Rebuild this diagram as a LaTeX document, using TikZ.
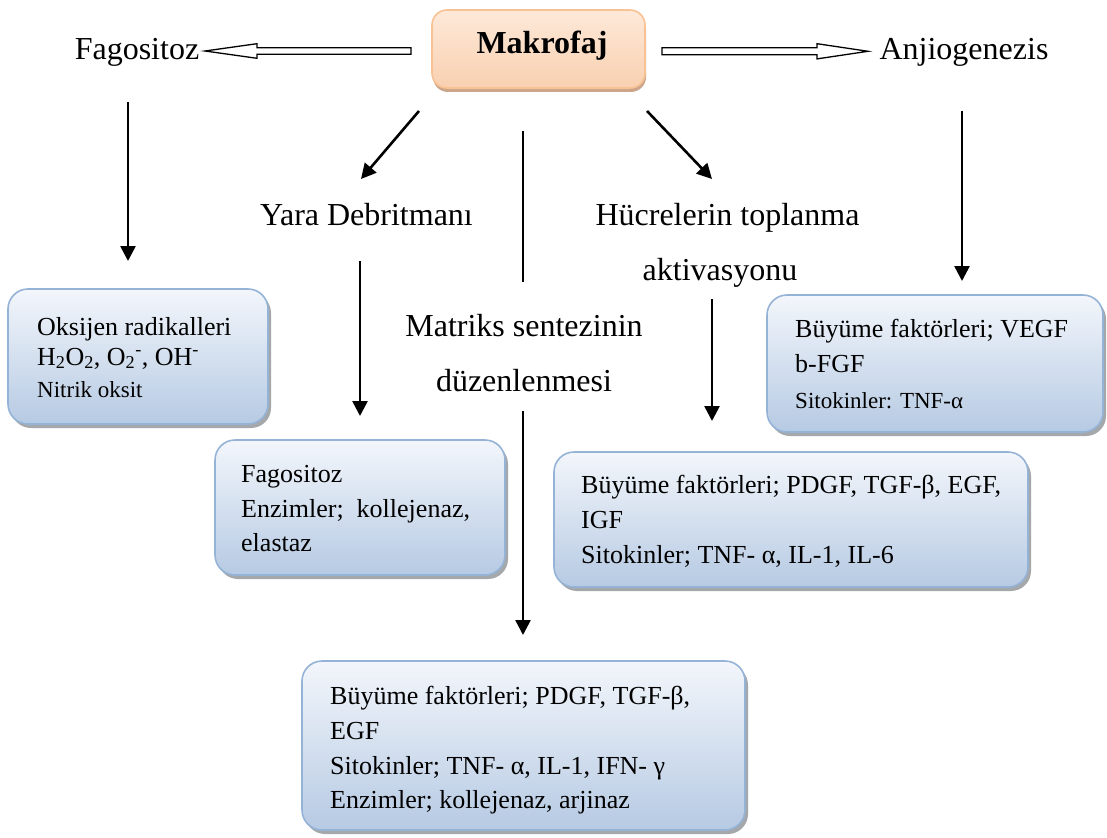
\documentclass[tikz,border=0pt]{standalone}
\usepackage{fontspec}
\setmainfont{Liberation Serif}
\usetikzlibrary{arrows.meta,shadows,calc}

\definecolor{boxedge}{HTML}{95B3D7}
\definecolor{boxtop}{HTML}{F3F6FB}
\definecolor{boxbot}{HTML}{B6CAE3}
\definecolor{boxshade}{HTML}{8E9296}
\definecolor{makedge}{HTML}{F9C294}
\definecolor{maktop}{HTML}{FDE9D9}
\definecolor{makbot}{HTML}{F9D0B0}
\definecolor{makshade}{HTML}{C79C7E}

\tikzset{
  x=1pt, y=-1pt,
  infobox/.style={draw=boxedge, line width=1.6pt, rounded corners=20pt,
    top color=boxtop, bottom color=boxbot, inner sep=0pt,
    drop shadow={shadow xshift=3pt, shadow yshift=-4pt, fill=boxshade, opacity=0.8}},
  makbox/.style={draw=makedge, line width=1.6pt, rounded corners=15pt,
    top color=maktop, bottom color=makbot, inner sep=0pt,
    drop shadow={shadow xshift=1pt, shadow yshift=-4pt, fill=makshade, opacity=0.9}},
  biglabel/.style={anchor=base, inner sep=0pt, font=\fontsize{32}{38}\selectfont},
  boxline/.style={anchor=base west, inner sep=0pt, font=\fontsize{26}{30}\selectfont},
  smallline/.style={anchor=base west, inner sep=0pt, font=\fontsize{23}{27}\selectfont},
  arr/.style={line width=2.6pt, -{Triangle[width=15pt,length=15pt]}},
  plainline/.style={line width=2.6pt},
  hollow/.style={draw=black, fill=white, line width=1.3pt, line join=miter},
}

\begin{document}
\begin{tikzpicture}
\useasboundingbox (0,0) rectangle (1107,837);

% central node
\node[makbox, minimum width=213pt, minimum height=78pt] (mak) at (538.5,49) {};
\node[anchor=base, inner sep=0pt, font=\fontsize{32}{38}\selectfont\bfseries] (makt) at (542,54) {Makrofaj};

% top-level labels
\node[biglabel] (fag) at (137,60) {Fagositoz};
\node[biglabel] (anj) at (964,60) {Anjiogenezis};
\node[biglabel] (yara) at (366.5,225) {Yara Debritmanı};
\node[biglabel] (huc1) at (727.5,225) {Hücrelerin toplanma};
\node[biglabel] (huc2) at (720,280) {aktivasyonu};
\node[biglabel] (mat1) at (524,336) {Matriks sentezinin};
\node[biglabel] (mat2) at (524,391) {düzenlenmesi};

% hollow block arrows to the sides
\coordinate (lt) at (411,51);
\coordinate (lh) at (257,51);
\coordinate (lp) at (205,51);
\draw[hollow] ($(lt)+(0,-3.3)$) -- ($(lh)+(0,-3.3)$) -- ($(lh)+(0,-7.3)$) -- (lp)
  -- ($(lh)+(0,7.3)$) -- ($(lh)+(0,3.3)$) -- ($(lt)+(0,3.3)$) -- cycle;
\coordinate (rt) at (662,51.3);
\coordinate (rh) at (817,51.3);
\coordinate (rp) at (868,51.3);
\draw[hollow] ($(rt)+(0,-3.5)$) -- ($(rh)+(0,-3.5)$) -- ($(rh)+(0,-7.6)$) -- (rp)
  -- ($(rh)+(0,7.6)$) -- ($(rh)+(0,3.5)$) -- ($(rt)+(0,3.5)$) -- cycle;

% information boxes
\node[infobox, minimum width=260pt, minimum height=135pt] (b1) at (138,356.5) {};
\node[infobox, minimum width=290pt, minimum height=135pt] (b2) at (360,507.5) {};
\node[infobox, minimum width=474pt, minimum height=135pt] (b3) at (791,519.5) {};
\node[infobox, minimum width=336pt, minimum height=137pt] (b4) at (935,363.5) {};
\node[infobox, minimum width=443pt, minimum height=169pt] (b5) at (523.5,745.5) {};

% box texts
\node[boxline] (b1a) at (37,335) {Oksijen radikalleri};
\node[boxline] (b1b) at (37,365) {H\textsubscript{2}O\textsubscript{2}, O\textsubscript{2}\textsuperscript{-}, OH\textsuperscript{-}};
\node[smallline] (b1c) at (37,397) {Nitrik oksit};

\node[boxline] (b2a) at (241,482) {Fagositoz};
\node[boxline] (b2b) at (241,517) {Enzimler;\ \ kollejenaz,};
\node[boxline] (b2c) at (241,551) {elastaz};

\node[boxline] (b3a) at (581,493) {Büyüme faktörleri; PDGF, TGF-β, EGF,};
\node[boxline] (b3b) at (581,528) {IGF};
\node[boxline] (b3c) at (581,563) {Sitokinler; TNF- α, IL-1, IL-6};

\node[boxline] (b4a) at (795,337) {Büyüme faktörleri; VEGF};
\node[boxline] (b4b) at (795,372) {b-FGF};
\node[smallline] (b4c) at (795,408) {Sitokinler: TNF-α};

\node[boxline] (b5a) at (330,704) {Büyüme faktörleri; PDGF, TGF-β,};
\node[boxline] (b5b) at (330,739) {EGF};
\node[boxline] (b5c) at (330,774) {Sitokinler; TNF- α, IL-1, IFN- γ};
\node[boxline] (b5d) at (330,808) {Enzimler; kollejenaz, arjinaz};

% arrow end points
\coordinate (a1s) at (128,102);  \coordinate (a1e) at (128,261);
\coordinate (a2s) at (419,111);  \coordinate (a2e) at (361,179);
\coordinate (a3s) at (647,111);  \coordinate (a3e) at (712,179);
\coordinate (a4s) at (962,111);  \coordinate (a4e) at (962,281);
\coordinate (a5s) at (360,261);  \coordinate (a5e) at (360,416);
\coordinate (a6s) at (712,299);  \coordinate (a6e) at (712,421);
\coordinate (a7s) at (523,411);  \coordinate (a7e) at (523,635);
\coordinate (ls) at (523,131);   \coordinate (le) at (523,282);

\draw[arr] (a1s) -- (a1e);
\draw[arr] (a2s) -- (a2e);
\draw[arr] (a3s) -- (a3e);
\draw[arr] (a4s) -- (a4e);
\draw[arr] (a5s) -- (a5e);
\draw[arr] (a6s) -- (a6e);
\draw[arr] (a7s) -- (a7e);
\draw[plainline] (ls) -- (le);
\end{tikzpicture}
\end{document}
